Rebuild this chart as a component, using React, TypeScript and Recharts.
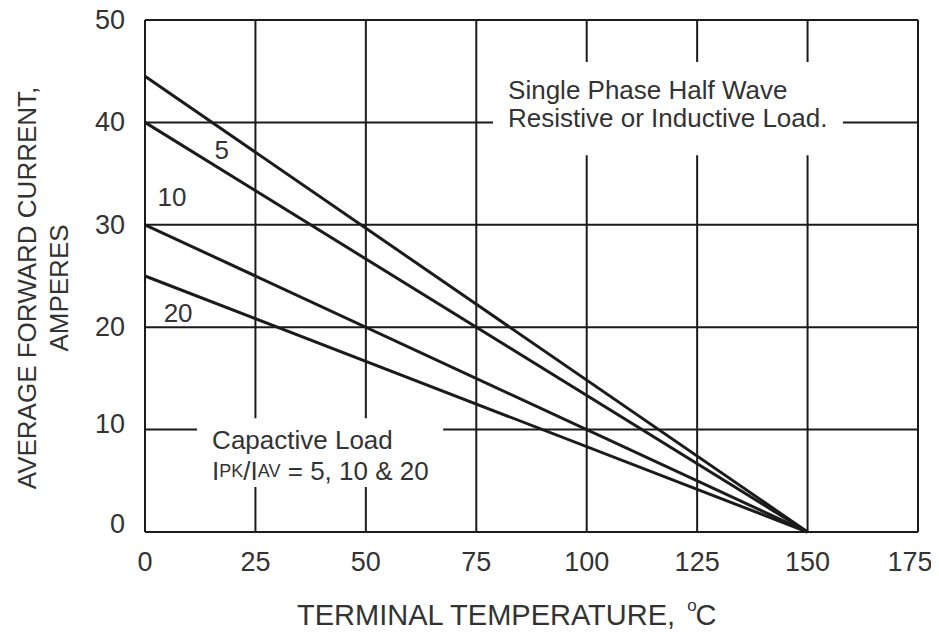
import React from "react";
import {
  LineChart,
  Line,
  XAxis,
  YAxis,
  CartesianGrid,
  ReferenceArea,
  ReferenceDot,
} from "recharts";

// terminal temperature (°C) at both ends of each derating line
const temps = [0, 150];
// average forward current (A) per load type
const resistive = [44.5, 0];
const cap5 = [40, 0];
const cap10 = [30, 0];
const cap20 = [25, 0];

const xTicks = [0, 25, 50, 75, 100, 125, 150, 175];
const yTicks = [0, 10, 20, 30, 40, 50];

// curve labels: text, x, y (data units)
const curveLabels: [string, number, number][] = [
  ["5", 17.4, 37.3],
  ["10", 6.1, 32.7],
  ["20", 7.5, 21.4],
];

const data = temps.map((t, i) => ({
  t,
  resistive: resistive[i],
  cap5: cap5[i],
  cap10: cap10[i],
  cap20: cap20[i],
}));

const FONT = "'Liberation Sans', Arial, Helvetica, sans-serif";
const TEXT = "#333";
const INK = "#1b1b1b";

function UpperNote(props: any) {
  const { x, y } = props.viewBox;
  return (
    <text fontFamily={FONT} fontSize={26} fill={TEXT}>
      <tspan x={x + 15} y={y + 28} dominantBaseline="central">
        Single Phase Half Wave
      </tspan>
      <tspan x={x + 15} y={y + 56} dominantBaseline="central">
        Resistive or Inductive Load.
      </tspan>
    </text>
  );
}

function LowerNote(props: any) {
  const { x, y } = props.viewBox;
  return (
    <g fontFamily={FONT} fill={TEXT}>
      <text x={x + 15} y={y + 22} fontSize={26} dominantBaseline="central">
        Capactive Load
      </text>
      <text x={x + 15} y={y + 53} fontSize={26} dominantBaseline="central">
        <tspan>I</tspan>
        <tspan fontSize={18}>PK</tspan>
        <tspan>/I</tspan>
        <tspan fontSize={18}>AV</tspan>
        <tspan> = 5, 10 &amp; 20</tspan>
      </text>
    </g>
  );
}

function YTitle(props: any) {
  const { x, y, height } = props.viewBox;
  const cy = y + height / 2 + 12;
  return (
    <g fontFamily={FONT} fontSize={26} fill={TEXT} textAnchor="middle">
      <text x={x + 27} y={cy} transform={`rotate(-90 ${x + 27} ${cy})`} dominantBaseline="central">
        AVERAGE FORWARD CURRENT,
      </text>
      <text x={x + 59} y={cy} transform={`rotate(-90 ${x + 59} ${cy})`} dominantBaseline="central">
        AMPERES
      </text>
    </g>
  );
}

function XTitle(props: any) {
  const { x, y } = props.viewBox;
  return (
    <text x={x + 152} y={y + 93} fontFamily={FONT} fontSize={29} fill={TEXT}>
      TERMINAL TEMPERATURE,
      <tspan dx={12} dy={-14} fontSize={17}>o</tspan>
      <tspan dx={-1} dy={14}>C</tspan>
    </text>
  );
}

function XTick(props: any) {
  const { x, y, payload } = props;
  const shift = payload.value === 175 ? -8 : 0;
  return (
    <text x={x + shift} y={y} dy="0.71em" textAnchor="middle" fontFamily={FONT} fontSize={27} fill={TEXT}>
      {payload.value}
    </text>
  );
}

function YTick(props: any) {
  const { x, y, payload } = props;
  const lift = payload.value === 0 ? -8 : payload.value === 10 ? -6 : 0;
  return (
    <text x={x} y={y + lift} textAnchor="end" dominantBaseline="central" fontFamily={FONT} fontSize={27} fill={TEXT}>
      {payload.value}
    </text>
  );
}

function CurveLabel(props: any) {
  const { x, y } = props.viewBox;
  return (
    <text x={x} y={y} fontFamily={FONT} fontSize={26} fill={TEXT} textAnchor="middle" dominantBaseline="central">
      {props.value}
    </text>
  );
}

export default function App() {
  return (
    <div style={{ width: 939, height: 642, margin: "-8px", background: "#fff" }}>
      <LineChart
        width={939}
        height={642}
        data={data}
        margin={{ top: 20, right: 21, bottom: 0, left: 0 }}
      >
        <CartesianGrid stroke={INK} strokeWidth={2} />
        <XAxis
          dataKey="t"
          type="number"
          domain={[0, 175]}
          ticks={xTicks}
          height={110}
          axisLine={false}
          tickLine={false}
          tickSize={0}
          tickMargin={20}
          tick={<XTick />}
          label={{ content: XTitle }}
        />
        <YAxis
          type="number"
          domain={[0, 50]}
          ticks={yTicks}
          width={145}
          axisLine={false}
          tickLine={false}
          tickSize={0}
          tickMargin={20}
          tick={<YTick />}
          label={{ content: YTitle }}
        />
        <ReferenceArea x1={78.8} x2={158} y1={36.8} y2={45.9} fill="#fff" fillOpacity={1} stroke="none" label={{ content: UpperNote }} />
        <ReferenceArea x1={11.8} x2={67.5} y1={4.4} y2={11.1} fill="#fff" fillOpacity={1} stroke="none" label={{ content: LowerNote }} />
        <Line dataKey="resistive" type="linear" stroke={INK} strokeWidth={3} dot={false} isAnimationActive={false} />
        <Line dataKey="cap5" type="linear" stroke={INK} strokeWidth={3} dot={false} isAnimationActive={false} />
        <Line dataKey="cap10" type="linear" stroke={INK} strokeWidth={3} dot={false} isAnimationActive={false} />
        <Line dataKey="cap20" type="linear" stroke={INK} strokeWidth={3} dot={false} isAnimationActive={false} />
        {curveLabels.map(([txt, x, y]) => (
          <ReferenceDot
            key={txt}
            x={x}
            y={y}
            r={0}
            fill="none"
            stroke="none"
            label={{ value: txt, content: CurveLabel }}
          />
        ))}
      </LineChart>
    </div>
  );
}
